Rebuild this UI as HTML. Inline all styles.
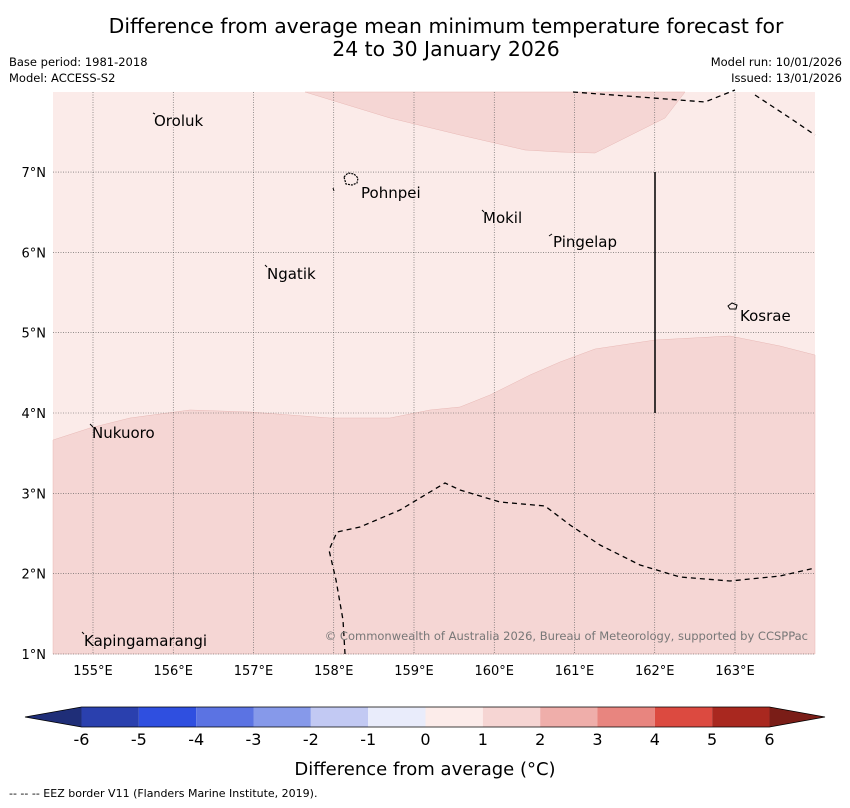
<!DOCTYPE html>
<html><head><meta charset="utf-8"><style>
body{margin:0;background:#fff;width:850px;height:804px;overflow:hidden;font-family:"DejaVu Sans","Liberation Sans",sans-serif}
svg text{font-family:"DejaVu Sans","Liberation Sans",sans-serif}
</style></head><body>
<svg width="850" height="804">
<text x="446" y="33" font-size="20.4" text-anchor="middle">Difference from average mean minimum temperature forecast for</text>
<text x="446" y="56" font-size="20.4" text-anchor="middle">24 to 30 January 2026</text>
<text x="9" y="66" font-size="11.5">Base period: 1981-2018</text>
<text x="9" y="82" font-size="11.5">Model: ACCESS-S2</text>
<text x="842" y="66" font-size="11.5" text-anchor="end">Model run: 10/01/2026</text>
<text x="842" y="82" font-size="11.5" text-anchor="end">Issued: 13/01/2026</text>
<g>
<rect x="53" y="92" width="762" height="562" fill="#fbebe9"/>
<polygon fill="#f5d6d4" stroke="#e8b8b5" stroke-width="0.5" points="53,440 90,428 130,418 190,410 250,412 330,418 390,418 430,410 460,407 490,395 530,375 560,362 595,349 655,340 730,336 780,346 815,355 815,654 53,654"/>
<polygon fill="#f5d6d4" stroke="#e8b8b5" stroke-width="0.5" points="305,92 390,118 460,135 525,150 560,152 595,153 635,133 665,118 685,92"/>
<g id="grid" stroke="#555" stroke-width="0.6" stroke-dasharray="1,1.5"></g>
<polyline fill="none" stroke="#000" stroke-width="1.3" stroke-dasharray="5,4" points="573,92 640,97 705,102 735,90"/>
<polyline fill="none" stroke="#000" stroke-width="1.3" stroke-dasharray="5,4" points="755,95 790,118 815,135"/>
<polyline fill="none" stroke="#000" stroke-width="1.3" stroke-dasharray="5,4" points="345,654 343,620 336,580 329,550 337,532 360,527 400,510 430,492 445,483 460,490 500,502 545,506 570,525 600,545 640,565 680,577 730,581 780,576 815,568"/>
<line x1="655" y1="172" x2="655" y2="413" stroke="#000" stroke-width="1.5"/>
<path d="M344,177 l4,-4 l6,1 l4,4 l-1,5 l-5,2 l-6,-1 z" fill="none" stroke="#000" stroke-width="1.2" stroke-dasharray="2,1"/>
<path d="M728,306 l4,-3 l5,2 l-1,4 l-6,0 z" fill="none" stroke="#000" stroke-width="1"/>
<g stroke="#000" stroke-width="1">
<line x1="153" y1="113" x2="155" y2="114"/><line x1="333" y1="188" x2="334" y2="191"/><line x1="482" y1="210" x2="484" y2="212"/><line x1="549" y1="236" x2="552" y2="234"/><line x1="265" y1="265" x2="267" y2="267"/><line x1="90" y1="424" x2="93" y2="427"/><line x1="82" y1="632" x2="84" y2="634"/>
</g>
<g font-size="15" fill="#000">
<text x="154" y="126">Oroluk</text>
<text x="361" y="198">Pohnpei</text>
<text x="483" y="223">Mokil</text>
<text x="553" y="247">Pingelap</text>
<text x="267" y="279">Ngatik</text>
<text x="740" y="321">Kosrae</text>
<text x="92" y="438">Nukuoro</text>
<text x="84" y="646">Kapingamarangi</text>
</g>
<text x="808" y="640" font-size="11.5" fill="#777" text-anchor="end">© Commonwealth of Australia 2026, Bureau of Meteorology, supported by CCSPPac</text>
</g>
<g id="axes" font-size="13"></g>
<g id="cbar"></g>
<text x="425" y="775" font-size="18" text-anchor="middle">Difference from average (°C)</text>
<text x="9" y="797" font-size="11">--  --  -- EEZ border V11 (Flanders Marine Institute, 2019).</text>
</svg>
<script>
const lonTicks=[155,156,157,158,159,160,161,162,163];
const latTicks=[1,2,3,4,5,6,7];
const cbarTicks=[-6,-5,-4,-3,-2,-1,0,1,2,3,4,5,6];
const cbarColors=["#2a40ae","#2f4fe0","#5b73e3","#8699ea","#c2c9f3","#e9ecfb","#fcecea","#f6d5d3","#efaeaa","#e8857f","#dc4a40","#a9281f"];
const NS="http://www.w3.org/2000/svg";
const xLon=l=>93+(l-155)*80.25, yLat=l=>654-(l-1)*80.33;
const grid=document.getElementById('grid'),axes=document.getElementById('axes'),cb=document.getElementById('cbar');
function mk(tag,at,par){const e=document.createElementNS(NS,tag);for(const k in at)e.setAttribute(k,at[k]);par.appendChild(e);return e;}
lonTicks.forEach(l=>{const x=xLon(l);
const g=mk('line',{x1:x,y1:92,x2:x,y2:654},grid);


const t=mk('text',{x:x,y:675,'text-anchor':'middle'},axes);t.textContent=l+'°E';

});
latTicks.forEach(l=>{const y=yLat(l);
const g=mk('line',{x1:53,y1:y,x2:815,y2:y},grid);


const t=mk('text',{x:46,y:y+5,'text-anchor':'end'},axes);t.textContent=l+'°N';

});
const cx=v=>425.5+v*57.33;
cbarColors.forEach((c,i)=>{const r=mk('rect',{x:cx(cbarTicks[i]),y:707,width:57.33,height:20,fill:c},cb);

});
const l=mk('polygon',{points:`${cx(-6)},707 25,717 ${cx(-6)},727`,fill:'#1f2e78'},cb);


const r=mk('polygon',{points:`${cx(6)},707 825,717 ${cx(6)},727`,fill:'#7a1d17'},cb);


const o=mk('polygon',{points:`25,717 ${cx(-6)},707 ${cx(6)},707 825,717 ${cx(6)},727 ${cx(-6)},727`,fill:'none',stroke:'#000','stroke-width':0.8},cb);


cbarTicks.forEach(v=>{const t=mk('text',{x:cx(v),y:745,'text-anchor':'middle','font-size':16},cb);t.textContent=v;

});
</script>
</body></html>
